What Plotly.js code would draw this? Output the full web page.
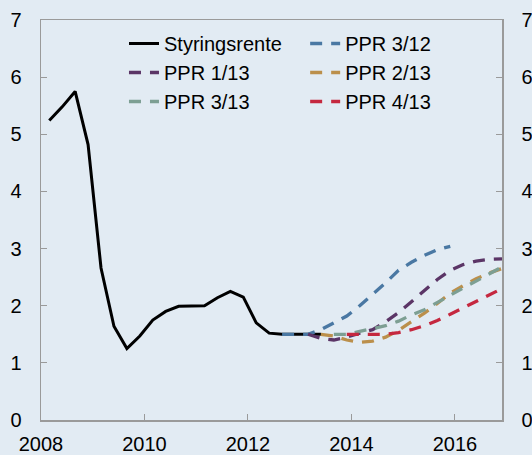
<!DOCTYPE html>
<html>
<head>
<meta charset="utf-8">
<script src="https://cdn.plot.ly/plotly-3.0.1.min.js"></script>
<style>html,body{margin:0;padding:0;background:#e2ebf3;}#chart{width:532px;height:455px;}</style>
</head>
<body>
<div id="chart"></div>
<script>
// Quarterly positions (decimal years)
const xHist = [2008.16,2008.41,2008.66,2008.91,2009.16,2009.41,2009.66,2009.91,2010.16,2010.41,2010.66,2010.91,2011.16,2011.41,2011.66,2011.91,2012.16,2012.41,2012.66,2012.91,2013.16,2013.41];
const styringsrente = [5.24,5.48,5.75,4.82,2.66,1.64,1.25,1.47,1.75,1.90,1.99,2.00,2.00,2.14,2.25,2.15,1.70,1.52,1.50,1.50,1.50,1.50];

const xPPR312 = [2012.66,2012.91,2013.16,2013.41,2013.66,2013.91,2014.16,2014.41,2014.66,2014.91,2015.16,2015.41,2015.66,2015.91];
const ppr312 = [1.50,1.50,1.50,1.58,1.70,1.82,2.00,2.20,2.40,2.62,2.76,2.88,2.98,3.04];

const xPPR113 = [2013.16,2013.41,2013.66,2013.91,2014.16,2014.41,2014.66,2014.91,2015.16,2015.41,2015.66,2015.91,2016.16,2016.41,2016.66,2016.91];
const ppr113 = [1.50,1.43,1.40,1.45,1.52,1.58,1.72,1.88,2.07,2.27,2.46,2.62,2.72,2.78,2.81,2.82];

const xPPR213 = [2013.41,2013.66,2013.91,2014.16,2014.41,2014.66,2014.91,2015.16,2015.41,2015.66,2015.91,2016.16,2016.41,2016.66,2016.91];
const ppr213 = [1.50,1.47,1.40,1.36,1.38,1.45,1.57,1.72,1.87,2.04,2.22,2.35,2.47,2.57,2.65];

const xPPR313 = [2013.66,2013.91,2014.16,2014.41,2014.66,2014.91,2015.16,2015.41,2015.66,2015.91,2016.16,2016.41,2016.66,2016.91];
const ppr313 = [1.50,1.50,1.55,1.60,1.65,1.73,1.84,1.93,2.06,2.19,2.31,2.43,2.55,2.68];

const xPPR413 = [2013.91,2014.16,2014.41,2014.66,2014.91,2015.16,2015.41,2015.66,2015.91,2016.16,2016.41,2016.66,2016.91];
const ppr413 = [1.50,1.50,1.50,1.50,1.53,1.58,1.65,1.74,1.85,1.96,2.07,2.19,2.30];

const xTicks = [2008,2010,2012,2014,2016];
const xTickLabels = ['2008','2010','2012','2014','2016'];
const yTicks = [0,1,2,3,4,5,6,7];

const dash = '12px,9px';
const W = 3.3;
const traces = [
  {x:xHist, y:styringsrente, name:'Styringsrente', mode:'lines', line:{color:'#000000', width:3}, legend:'legend'},
  {x:xPPR312, y:ppr312, name:'PPR 3/12', mode:'lines', line:{color:'#4a78a3', width:W, dash:dash}, legend:'legend2'},
  {x:xPPR113, y:ppr113, name:'PPR 1/13', mode:'lines', line:{color:'#5b3566', width:W, dash:dash}, legend:'legend'},
  {x:xPPR213, y:ppr213, name:'PPR 2/13', mode:'lines', line:{color:'#bb8f4b', width:W, dash:dash}, legend:'legend2'},
  {x:xPPR313, y:ppr313, name:'PPR 3/13', mode:'lines', line:{color:'#7d9f93', width:W, dash:dash}, legend:'legend'},
  {x:xPPR413, y:ppr413, name:'PPR 4/13', mode:'lines', line:{color:'#c5283f', width:W, dash:dash}, legend:'legend2'},
  {x:[2010], y:[0], yaxis:'y2', mode:'markers', marker:{opacity:0}, showlegend:false, hoverinfo:'skip'}
];

const fontFam = 'Arial, "Liberation Sans", sans-serif';
const axisCol = '#9a9a9a';
const layout = {
  width:532, height:455,
  margin:{l:41, r:30, t:20, b:35},
  paper_bgcolor:'#e2ebf3', plot_bgcolor:'#e2ebf3',
  font:{family:fontFam, size:20, color:'#000'},
  showlegend:true,
  xaxis:{range:[2008,2016.91], tickvals:xTicks, ticktext:xTickLabels, ticks:'inside', ticklen:6, tickcolor:axisCol,
         showline:true, linecolor:axisCol, linewidth:1.5, mirror:true, showgrid:false, zeroline:false,
         ticklabelstandoff:5, tickfont:{size:20}},
  yaxis:{range:[0,7], tickvals:yTicks, ticks:'inside', ticklen:6, tickcolor:axisCol,
         showline:true, linecolor:axisCol, linewidth:1.5, showgrid:false, zeroline:false,
         ticklabelstandoff:14, tickfont:{size:20}},
  yaxis2:{range:[0,7], tickvals:yTicks, overlaying:'y', side:'right', ticks:'inside', ticklen:6, tickcolor:axisCol,
         showline:true, linecolor:axisCol, linewidth:1.5, showgrid:false, zeroline:false,
         ticklabelstandoff:14, tickfont:{size:20}},
  legend:{x:0.18, y:0.99, xanchor:'left', yanchor:'top', bgcolor:'rgba(0,0,0,0)', font:{size:20}, tracegroupgap:0},
  legend2:{x:0.573, y:0.99, xanchor:'left', yanchor:'top', bgcolor:'rgba(0,0,0,0)', font:{size:20}, tracegroupgap:0}
};

Plotly.newPlot('chart', traces, layout, {displayModeBar:false, staticPlot:true});
</script>
</body>
</html>
